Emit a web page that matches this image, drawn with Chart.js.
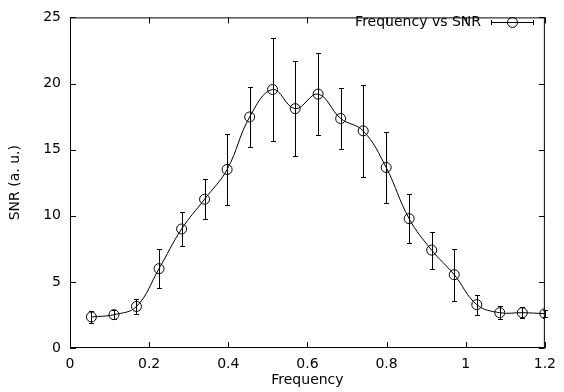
<!DOCTYPE html>
<html>
<head>
<meta charset="utf-8">
<title>Frequency vs SNR</title>
<script src="https://cdn.jsdelivr.net/npm/chart.js@4/dist/chart.umd.min.js"></script>
<style>
    html, body { margin: 0; padding: 0; background: #fff; }
    #wrap { width: 564px; height: 392px; }
</style>
</head>
<body>
<div id="wrap"><canvas id="snrChart"></canvas></div>
<script>
// Data
const freq = [0.054, 0.111, 0.168, 0.225, 0.282, 0.340, 0.397, 0.454, 0.512, 0.569, 0.627,
              0.684, 0.741, 0.799, 0.857, 0.914, 0.971, 1.028, 1.086, 1.143, 1.200];
const snr = [2.35, 2.52, 3.14, 6.0, 9.0, 11.25, 13.5, 17.47, 19.55, 18.1, 19.2,
             17.35, 16.42, 13.65, 9.78, 7.4, 5.54, 3.28, 2.67, 2.67, 2.6];
const snrErr = [0.45, 0.35, 0.55, 1.5, 1.25, 1.5, 2.7, 2.25, 3.9, 3.6, 3.1,
                2.3, 3.5, 2.7, 1.85, 1.4, 1.95, 0.75, 0.5, 0.4, 0.25];

const xTicks = [0, 0.2, 0.4, 0.6, 0.8, 1, 1.2];
const yTicks = [0, 5, 10, 15, 20, 25];

const FONT = "'DejaVu Sans', sans-serif";

/**
 * Error bars, inward ticks on all sides, plot frame and key (gnuplot look)
 */
const gnuplotFrame = {
    id: 'gnuplotFrame',
    afterDatasetsDraw(chart) {
        const { ctx, chartArea: a, scales: { x, y } } = chart;
        ctx.save();
        ctx.strokeStyle = '#000';
        ctx.lineWidth = 1;

        // error bars
        freq.forEach((f, i) => {
            const px = Math.round(x.getPixelForValue(f)) + 0.5;
            const top = Math.round(y.getPixelForValue(snr[i] + snrErr[i])) + 0.5;
            const bot = Math.round(y.getPixelForValue(snr[i] - snrErr[i])) + 0.5;
            ctx.beginPath();
            ctx.moveTo(px, top);
            ctx.lineTo(px, bot);
            ctx.moveTo(px - 2.5, top);
            ctx.lineTo(px + 2.5, top);
            ctx.moveTo(px - 2.5, bot);
            ctx.lineTo(px + 2.5, bot);
            ctx.stroke();
        });

        // inward tick marks, mirrored
        const len = 6;
        ctx.beginPath();
        xTicks.forEach(v => {
            const px = Math.round(x.getPixelForValue(v)) + 0.5;
            ctx.moveTo(px, a.bottom);
            ctx.lineTo(px, a.bottom - len);
            ctx.moveTo(px, a.top);
            ctx.lineTo(px, a.top + len);
        });
        yTicks.forEach(v => {
            const py = Math.round(y.getPixelForValue(v)) + 0.5;
            ctx.moveTo(a.left, py);
            ctx.lineTo(a.left + len, py);
            ctx.moveTo(a.right, py);
            ctx.lineTo(a.right - len, py);
        });
        ctx.stroke();

        // frame
        ctx.strokeRect(a.left + 0.5, a.top + 0.5, a.width - 1, a.height - 1);

        // key
        const ky = 22.5;
        ctx.font = '14px ' + FONT;
        ctx.fillStyle = '#000';
        ctx.textAlign = 'right';
        ctx.textBaseline = 'middle';
        ctx.fillText(chart.data.datasets[0].label, 481, ky);
        ctx.beginPath();
        ctx.moveTo(491, ky);
        ctx.lineTo(534, ky);
        ctx.moveTo(491.5, ky - 2.5);
        ctx.lineTo(491.5, ky + 2.5);
        ctx.moveTo(533.5, ky - 2.5);
        ctx.lineTo(533.5, ky + 2.5);
        ctx.stroke();
        ctx.beginPath();
        ctx.arc(512.5, ky, 5, 0, Math.PI * 2);
        ctx.stroke();

        ctx.restore();
    }
};

document.addEventListener('DOMContentLoaded', function() {
    const ctx = document.getElementById('snrChart').getContext('2d');
    new Chart(ctx, {
        type: 'scatter',
        data: {
            datasets: [{
                label: 'Frequency vs SNR',
                data: freq.map((f, i) => ({ x: f, y: snr[i] })),
                showLine: true,
                tension: 0.4,
                borderColor: '#000',
                borderWidth: 1,
                pointRadius: 5,
                pointHoverRadius: 5,
                pointBorderWidth: 1,
                pointBorderColor: '#000',
                pointBackgroundColor: 'rgba(0,0,0,0)'
            }]
        },
        options: {
            responsive: true,
            maintainAspectRatio: false,
            animation: false,
            events: [],
            layout: {
                padding: { top: 9, right: 11, left: 0, bottom: 0 }
            },
            plugins: {
                legend: { display: false },
                tooltip: { enabled: false }
            },
            scales: {
                x: {
                    type: 'linear',
                    min: 0,
                    max: 1.2,
                    afterBuildTicks: scale => {
                        scale.ticks = xTicks.map(v => ({ value: v }));
                    },
                    afterFit: scale => { scale.height = 44; },
                    grid: { display: false, drawTicks: false },
                    border: { display: false },
                    ticks: {
                        color: '#000',
                        padding: 8,
                        maxRotation: 0,
                        font: { family: FONT, size: 14 },
                        callback: v => String(Number(v.toFixed(1)))
                    },
                    title: {
                        display: true,
                        text: 'Frequency',
                        color: '#000',
                        font: { family: FONT, size: 14 },
                        padding: { top: 0, bottom: 3 }
                    }
                },
                y: {
                    type: 'linear',
                    min: 0,
                    max: 25,
                    afterBuildTicks: scale => {
                        scale.ticks = yTicks.map(v => ({ value: v }));
                    },
                    afterFit: scale => { scale.width = 70; },
                    grid: { display: false, drawTicks: false },
                    border: { display: false },
                    ticks: {
                        color: '#000',
                        padding: 9,
                        font: { family: FONT, size: 14 }
                    },
                    title: {
                        display: true,
                        text: 'SNR (a. u.)',
                        color: '#000',
                        font: { family: FONT, size: 14 },
                        padding: { top: 7, bottom: 0 }
                    }
                }
            }
        },
        plugins: [gnuplotFrame]
    });
});
</script>
</body>
</html>
